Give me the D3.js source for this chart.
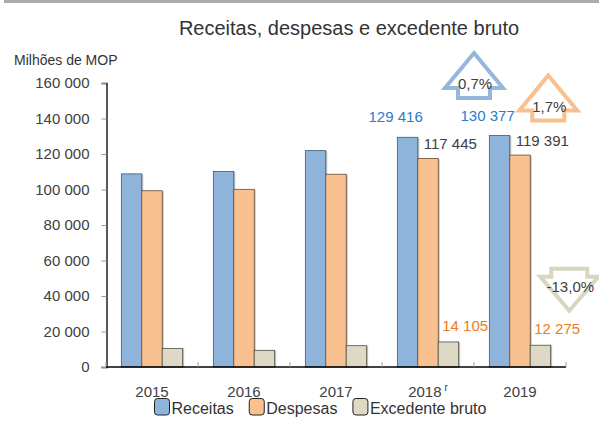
<!DOCTYPE html>
<html>
<head>
<meta charset="utf-8">
<script src="https://cdnjs.cloudflare.com/ajax/libs/d3/7.8.5/d3.min.js"></script>
<style>
  body { margin: 0; background: #fff; }
  svg { display: block; font-family: "Liberation Sans", Arial, sans-serif; }
</style>
</head>
<body>
<svg width="599" height="430"></svg>
<script>
// data
const years = ["2015", "2016", "2017", "2018", "2019"];
const receitas = [108800, 110100, 121900, 129416, 130377];
const despesas = [99300, 100100, 108600, 117445, 119391];
const excedente = [10500, 9400, 12000, 14105, 12275];
const seriesNames = ["Receitas", "Despesas", "Excedente bruto"];
const yTicks = [0, 20000, 40000, 60000, 80000, 100000, 120000, 140000, 160000];
const revisedYear = "2018";
const changeLabels = ["0,7%", "1,7%", "-13,0%"]; // receitas, despesas, excedente 2019 vs 2018
const labelledYears = ["2018", "2019"];

const fills = ["#8fb4dc", "#f9c18f", "#ddd9c4"];
const strokes = ["#3e5878", "#6b4b2e", "#4d4d44"];
const labelCols = ["#2a7ccc", "#404040", "#ee7a22"];
const arrowCols = ["#94b7db", "#f9c08e", "#d8d5c1"];

const svg = d3.select("svg");
const locale = d3.formatLocale({decimal: ",", thousands: " ", grouping: [3], currency: ["", ""]});
const fmt = locale.format(",");

// top grey band
svg.append("rect").attr("x", 4).attr("y", 0).attr("width", 595).attr("height", 3).attr("fill", "#aeaaa7");

let x0 = d3.scaleBand().domain(years).range([106, 566]);
let x1 = d3.scaleBand().domain(seriesNames).range([0, x0.bandwidth()]).paddingOuter(0.75);
let y = d3.scaleLinear().domain([0, 160000]).range([367, 83]);

svg.append("text").attr("x", 349).attr("y", 35).attr("text-anchor", "middle")
  .attr("font-size", 20).attr("fill", "#333").text("Receitas, despesas e excedente bruto");
svg.append("text").attr("x", 14).attr("y", 65).attr("font-size", 14).attr("fill", "#333")
  .text("Milhões de MOP");

// y axis
let gy = svg.append("g").attr("transform", "translate(106.5,0)")
  .call(d3.axisLeft(y).tickValues(yTicks).tickFormat(fmt).tickSize(5).tickPadding(12));
gy.selectAll(".tick line").attr("stroke", "#999");
gy.select(".domain").attr("stroke", "#000").attr("stroke-width", 1.3);
gy.selectAll(".tick text").attr("font-size", 15).attr("fill", "#404040")
  .attr("font-family", "Liberation Sans, Arial, sans-serif");

// bars
const series = [receitas, despesas, excedente];
let rows = [];
years.forEach((yr, i) => series.forEach((s, k) => rows.push({year: yr, k: k, v: s[i]})));

let gBars = svg.append("g");
gBars.selectAll(".shadow").data(rows).enter().append("rect")
  .attr("class", "shadow")
  .attr("x", d => x0(d.year) + x1(seriesNames[d.k]) + 1.5)
  .attr("y", d => y(d.v) + 0.5)
  .attr("width", x1.bandwidth())
  .attr("height", d => y(0) - y(d.v))
  .attr("fill", "#c4c4c4");
gBars.selectAll(".bar").data(rows).enter().append("rect")
  .attr("class", "bar")
  .attr("x", d => x0(d.year) + x1(seriesNames[d.k]))
  .attr("y", d => y(d.v))
  .attr("width", x1.bandwidth())
  .attr("height", d => y(0) - y(d.v))
  .attr("fill", d => fills[d.k])
  .attr("stroke", d => strokes[d.k])
  .attr("stroke-width", 0.8);

// x axis
svg.append("line").attr("x1", 106).attr("x2", 566).attr("y1", y(0)).attr("y2", y(0))
  .attr("stroke", "#000").attr("stroke-width", 1.5);
svg.selectAll(".xtick").data(years.concat(["end"])).enter().append("line")
  .attr("x1", (d, i) => 106 + i * x0.step()).attr("x2", (d, i) => 106 + i * x0.step())
  .attr("y1", y(0) - 5).attr("y2", y(0)).attr("stroke", "#999");
let gx = svg.append("g").attr("transform", "translate(0," + y(0) + ")")
  .call(d3.axisBottom(x0).tickSize(0).tickPadding(19));
gx.select(".domain").remove();
gx.selectAll(".tick text").attr("font-size", 15).attr("fill", "#404040")
  .attr("font-family", "Liberation Sans, Arial, sans-serif");
gx.selectAll(".tick text").filter(d => d === revisedYear)
  .append("tspan").attr("dx", 3).attr("dy", "-0.55em").attr("font-size", 10).text("r");

// value labels for 2018 and 2019
labelledYears.forEach(yr => {
  let i = years.indexOf(yr);
  let bx = k => x0(yr) + x1(seriesNames[k]);
  svg.append("text").attr("x", bx(0) + x1.bandwidth() + 5).attr("y", y(receitas[i]) - 15)
    .attr("text-anchor", "end").attr("font-size", 15).attr("fill", labelCols[0]).text(fmt(receitas[i]));
  svg.append("text").attr("x", bx(1) + 6).attr("y", y(despesas[i]) - 9.5)
    .attr("font-size", 15).attr("fill", labelCols[1]).text(fmt(despesas[i]));
  svg.append("text").attr("x", bx(2) + 4).attr("y", y(excedente[i]) - 11)
    .attr("font-size", 15).attr("fill", labelCols[2]).text(fmt(excedente[i]));
});

// change arrows next to the 2019 bars
function arrowPath(cx, tip, base, end, hw, sw) {
  return "M" + cx + "," + tip + "L" + (cx + hw) + "," + base + "L" + (cx + sw) + "," + base +
    "L" + (cx + sw) + "," + end + "L" + (cx - sw) + "," + end + "L" + (cx - sw) + "," + base +
    "L" + (cx - hw) + "," + base + "Z";
}
let last = years.length - 1;
let xl = x0(years[last]);
const arrows = [
  {cx: xl, top: y(receitas[last]) - 82.5, dir: -1, label: changeLabels[0], ty: 89},
  {cx: xl + 74.3, top: y(despesas[last]) - 79.6, dir: -1, label: changeLabels[1], ty: 112.3},
  {cx: xl + 95.3, top: y(excedente[last]) - 76.5, dir: 1, label: changeLabels[2], ty: 291.5}
];
arrows.forEach((a, k) => {
  let p;
  if (a.dir < 0) p = arrowPath(a.cx, a.top, a.top + 35, a.top + 45, 29, 16);
  else p = arrowPath(a.cx, a.top + 42, a.top + 8, a.top, 29, 18);
  svg.append("path").attr("d", p).attr("fill", "#fff").attr("stroke", arrowCols[k])
    .attr("stroke-width", 4).attr("stroke-linejoin", "miter");
  svg.append("text").attr("x", a.cx + 1).attr("y", a.ty).attr("text-anchor", "middle")
    .attr("font-size", 15).attr("fill", "#404040").text(a.label);
});

// legend
let lx = 154;
seriesNames.forEach((name, k) => {
  svg.append("rect").attr("x", lx + 0.5).attr("y", 398.5).attr("width", 15).attr("height", 16.5)
    .attr("rx", 3).attr("fill", fills[k]).attr("stroke", "#222").attr("stroke-width", 1);
  let t = svg.append("text").attr("x", lx + 17.5).attr("y", 414).attr("font-size", 16)
    .attr("fill", "#333").text(name);
  lx += 17.5 + t.node().getComputedTextLength() + 15;
});
</script>
</body>
</html>
